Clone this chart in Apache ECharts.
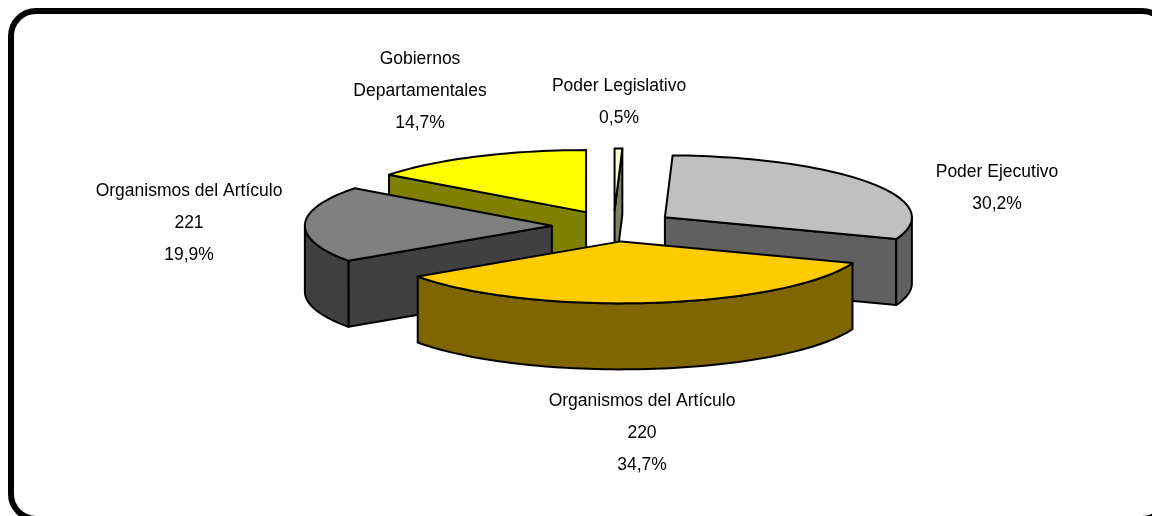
<!DOCTYPE html>
<html>
<head>
<meta charset="utf-8">
<title>Pie 3D</title>
<script src="https://cdn.jsdelivr.net/npm/echarts@6/dist/echarts.min.js"></script>
<style>
  html, body { margin: 0; padding: 0; background: #fff; }
  #chart { width: 1152px; height: 516px; }
</style>
</head>
<body>
<div id="chart"></div>
<script>
  // clockwise from 12 o'clock, same order as the source sheet
  const categories = ['Poder Legislativo', 'Poder Ejecutivo', 'Organismos del Artículo\n220', 'Organismos del Artículo\n221', 'Gobiernos\nDepartamentales'];
  const percents = [0.5, 30.2, 34.7, 19.9, 14.7];
  const topColors = ['#FFFFCC', '#C0C0C0', '#FFCC00', '#808080', '#FFFF00'];
  const wallColors = ['#808066', '#606060', '#806600', '#404040', '#808000'];

  // label anchors (center of the text block)
  const labelX = [619, 997, 642, 189, 420];
  const labelY = [102, 188, 433, 223, 91];

  // pie geometry
  const cx = 613.6, cy = 226, rx = 247, ry = 62, depth = 66, explode = 0.25;

  const total = percents.reduce((a, b) => a + b, 0);
  let acc = 0;
  const slices = percents.map((v, i) => {
    const start = acc / total * Math.PI * 2;
    acc += v;
    const end = acc / total * Math.PI * 2;
    const mid = (start + end) / 2;
    return {
      index: i,
      start,
      end,
      ox: cx + explode * rx * Math.sin(mid),
      oy: cy - explode * ry * Math.cos(mid)
    };
  });
  // back slices get painted first
  const drawOrder = slices.slice().sort((a, b) => a.oy - b.oy);

  const arcPoints = (s, a, b, dy) => {
    const pts = [];
    const n = Math.max(2, Math.ceil((b - a) / 0.03));
    for (let k = 0; k <= n; k++) {
      const t = a + (b - a) * k / n;
      pts.push([s.ox + rx * Math.sin(t), s.oy - ry * Math.cos(t) + dy]);
    }
    return pts;
  };

  const poly = (points, fill) => ({
    type: 'polygon',
    shape: { points },
    style: { fill, stroke: '#000', lineWidth: 2, lineJoin: 'round' }
  });

  const renderSlice = (params) => {
    const s = drawOrder[params.dataIndex];
    const wall = wallColors[s.index];
    const children = [];
    const radial = (t) => {
      const p = [s.ox + rx * Math.sin(t), s.oy - ry * Math.cos(t)];
      return poly([[s.ox, s.oy], p, [p[0], p[1] + depth], [s.ox, s.oy + depth]], wall);
    };
    if (Math.sin(s.start) < -1e-6) children.push(radial(s.start));
    if (Math.sin(s.end) > 1e-6) children.push(radial(s.end));
    // rim only shows on the front half of the ellipse
    const a = Math.max(s.start, Math.PI / 2);
    const b = Math.min(s.end, Math.PI * 1.5);
    if (b > a) {
      const upper = arcPoints(s, a, b, 0);
      const lower = arcPoints(s, a, b, depth).reverse();
      children.push(poly(upper.concat(lower), wall));
    }
    children.push(poly([[s.ox, s.oy]].concat(arcPoints(s, s.start, s.end, 0)), topColors[s.index]));
    return { type: 'group', children };
  };

  const fmtPct = (v) => v.toFixed(1).replace('.', ',') + '%';

  const labels = categories.map((name, i) => ({
    type: 'text',
    x: labelX[i],
    y: labelY[i],
    z: 10,
    style: {
      text: name + '\n' + fmtPct(percents[i]),
      fill: '#000',
      font: '17.5px "Liberation Sans", Arial, sans-serif',
      lineHeight: 32,
      align: 'center',
      verticalAlign: 'middle'
    }
  }));

  const myChart = echarts.init(document.getElementById('chart'));
  myChart.setOption({
    animation: false,
    backgroundColor: '#fff',
    graphic: [
      {
        type: 'rect',
        shape: { x: 11, y: 11, width: 1156, height: 508, r: 25 },
        style: { fill: '#fff', stroke: '#000', lineWidth: 6 },
        z: 0
      }
    ].concat(labels),
    series: [
      {
        type: 'custom',
        coordinateSystem: 'none',
        silent: true,
        z: 5,
        data: drawOrder.map((s) => percents[s.index]),
        renderItem: renderSlice
      }
    ]
  });
</script>
</body>
</html>
